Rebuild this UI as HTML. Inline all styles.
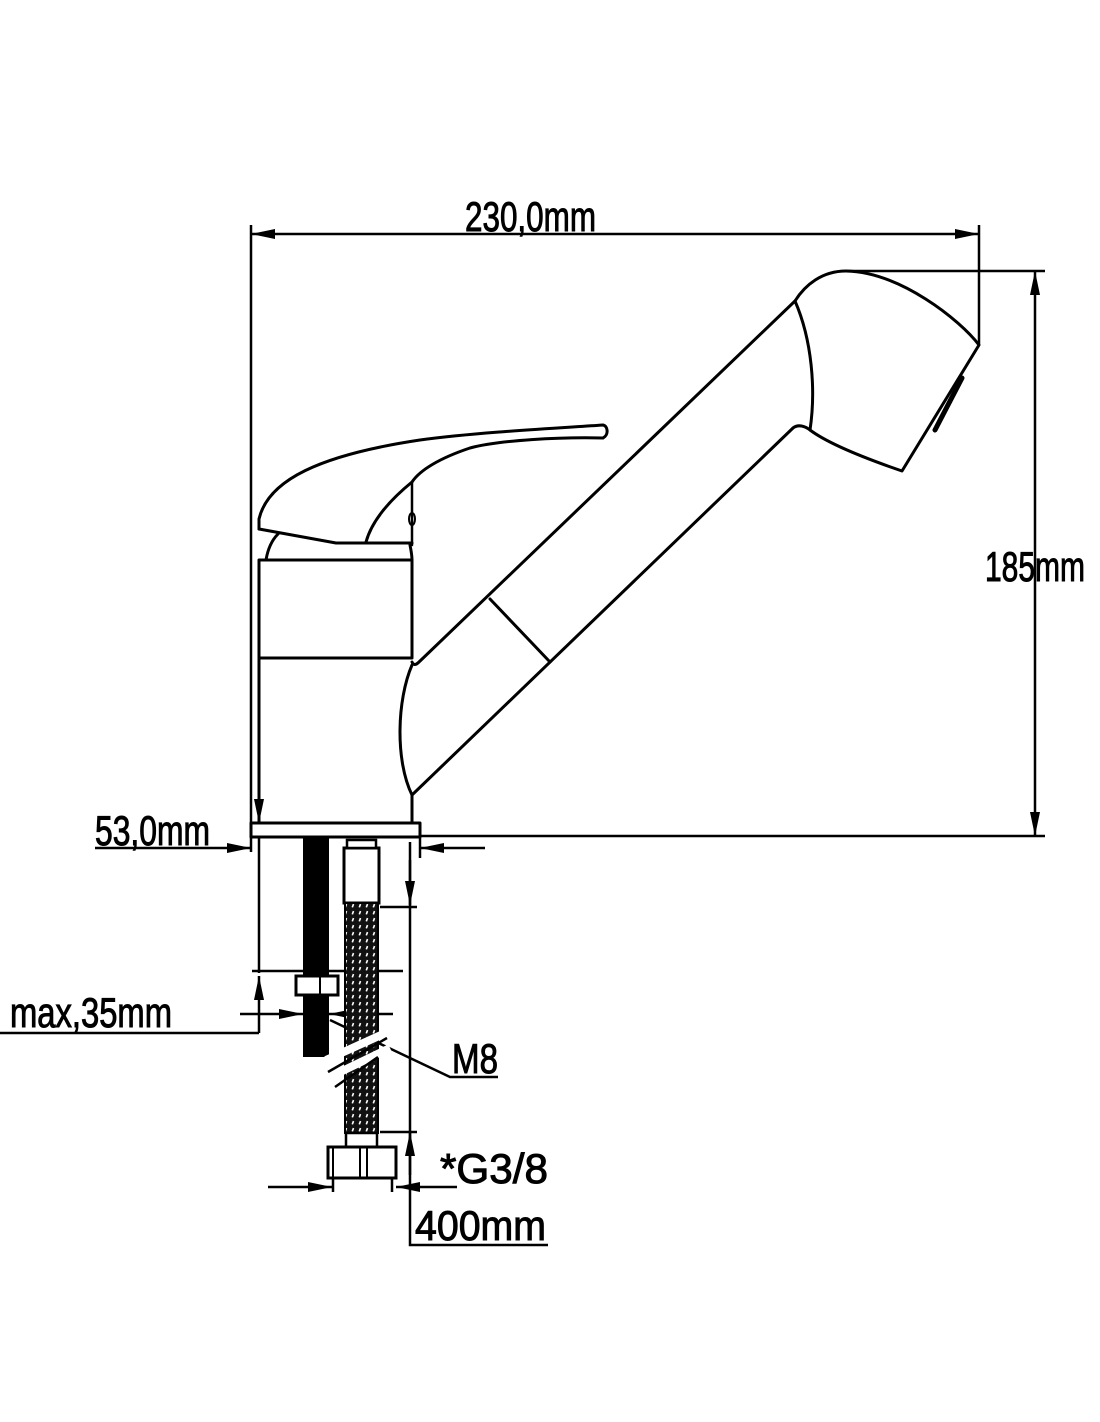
<!DOCTYPE html>
<html><head><meta charset="utf-8"><style>
html,body{margin:0;padding:0;background:#fff;}
svg{display:block;}
text{font-family:"Liberation Sans",sans-serif;fill:#000;stroke:#000;stroke-width:1;}
</style></head><body>
<svg width="1100" height="1422" viewBox="0 0 1100 1422" xmlns="http://www.w3.org/2000/svg">
<defs>
<marker id="a" viewBox="0 0 24 10" refX="24" refY="5" markerWidth="24" markerHeight="10" markerUnits="userSpaceOnUse" orient="auto-start-reverse"><path d="M0,0 L24,5 L0,10 Z" fill="#000"/></marker>
<pattern id="br" width="7" height="7" patternUnits="userSpaceOnUse"><rect width="7" height="7" fill="#111"/><rect x="2" y="1" width="1.6" height="3.5" fill="#fff" transform="rotate(20 3 3)"/></pattern>
</defs>
<g fill="none" stroke="#000" stroke-width="3" stroke-linejoin="round" stroke-linecap="round">
<!-- lever -->
<path d="M259,529 L336,543 L412,543"/>
<path d="M259,529 L259,519 C268,480 320,455 420,440 C480,432 560,428 603,425 C608,426 609,435 603,438 C560,437 500,440 470,448 C440,458 420,470 412,482 C390,500 372,520 366,542"/>
<path d="M412,482 L412,545" stroke-width="2.5"/>
<ellipse cx="412" cy="519" rx="3" ry="6" stroke-width="2"/>
<!-- dome -->
<path d="M266,560 C268,548 272,540 278,534"/>
<path d="M410,545 C411,550 412,555 412,560"/>
<!-- body -->
<rect x="259" y="560" width="153" height="98"/>
<path d="M259,658 L259,823"/>
<path d="M412,665 C397,700 395,760 412,795 L412,823"/>
<rect x="251" y="823" width="169" height="14"/>
<!-- spout -->
<path d="M795,301 L419,662 Q414,667 412,662"/>
<path d="M793,428 L412,795"/>
<path d="M490,599 L550,662"/>
<!-- head -->
<path d="M795,301 C805,285 822,271 846,271 C900,272 960,320 979,345 L902,471 C870,460 830,445 810,430 C805,426 798,424 793,428"/>
<path d="M795,301 C812,340 816,390 810,430"/>
<path d="M962,378 L935,430" stroke-width="5"/>
</g>
<!-- dimensions -->
<g fill="none" stroke="#000" stroke-width="2.5">
<path d="M251,225 L251,852"/>
<path d="M979,225 L979,345"/>
<path d="M251,234 L979,234" marker-start="url(#a)" marker-end="url(#a)"/>
<path d="M846,271 L1045,271"/>
<path d="M420,836 L1045,836"/>
<path d="M1035,271 L1035,836" marker-start="url(#a)" marker-end="url(#a)"/>
<path d="M259,790 L259,823" marker-end="url(#a)" stroke-width="1.5"/>
<path d="M95,848 L251,848" marker-end="url(#a)"/>
<path d="M485,848 L420,848" marker-end="url(#a)"/>
<path d="M420,837 L420,858"/>
<path d="M259,838 L259,973"/>
<path d="M252,971 L403,971"/>
<path d="M259,1033 L259,976" marker-end="url(#a)"/>
<path d="M0,1033 L259,1033"/>
<path d="M240,1014 L303,1014" marker-end="url(#a)"/>
<path d="M393,1014 L329,1014" marker-end="url(#a)"/>
<path d="M330,1020 L450,1077 L498,1077"/>
<path d="M410,842 L410,1245 L548,1245"/>
<path d="M410,860 L410,905" marker-end="url(#a)"/>
<path d="M410,1175 L410,1132" marker-end="url(#a)"/>
<path d="M380,907 L417,907"/>
<path d="M380,1132 L417,1132"/>
<path d="M268,1187 L332,1187" marker-end="url(#a)"/>
<path d="M457,1187 L396,1187" marker-end="url(#a)"/>
<path d="M333,1178 L333,1192 M392,1178 L392,1192"/>
</g>
<!-- rod & hose -->
<rect x="303" y="838" width="26" height="219" fill="#000"/>
<rect x="296" y="976" width="42" height="19" fill="#fff" stroke="#000" stroke-width="3"/>
<path d="M320,976 L320,995" stroke="#000" stroke-width="2"/>
<rect x="344" y="848" width="35" height="55" fill="#fff" stroke="#000" stroke-width="3"/>
<rect x="347" y="840" width="29" height="8" fill="#fff" stroke="#000" stroke-width="2.5"/>
<rect x="345" y="903" width="33" height="230" fill="url(#br)" stroke="#000" stroke-width="2"/>
<path d="M326,1060 L392,1030 M332,1076 L390,1048" stroke="#fff" stroke-width="8"/>
<path d="M328,1072 L387,1038 M335,1087 L378,1057" stroke="#000" stroke-width="2.5"/>
<rect x="346" y="1133" width="31" height="14" fill="#fff" stroke="#000" stroke-width="2.5"/>
<rect x="328" y="1147" width="68" height="31" fill="#fff" stroke="#000" stroke-width="3"/>
<path d="M360,1147 L360,1178 M367,1147 L367,1178 M333,1147 L333,1178" stroke="#000" stroke-width="2"/>
<!-- text -->
<text x="465" y="231" font-size="42" textLength="131" lengthAdjust="spacingAndGlyphs">230,0mm</text>
<text x="985" y="581" font-size="42" textLength="100" lengthAdjust="spacingAndGlyphs">185mm</text>
<text x="95" y="845" font-size="42" textLength="115" lengthAdjust="spacingAndGlyphs">53,0mm</text>
<text x="10" y="1027" font-size="42" textLength="162" lengthAdjust="spacingAndGlyphs">max,35mm</text>
<text x="452" y="1073" font-size="42" textLength="46" lengthAdjust="spacingAndGlyphs">M8</text>
<text x="440" y="1183" font-size="42" textLength="108" lengthAdjust="spacingAndGlyphs">*G3/8</text>
<text x="415" y="1240" font-size="42" textLength="131" lengthAdjust="spacingAndGlyphs">400mm</text>
</svg>
</body></html>
